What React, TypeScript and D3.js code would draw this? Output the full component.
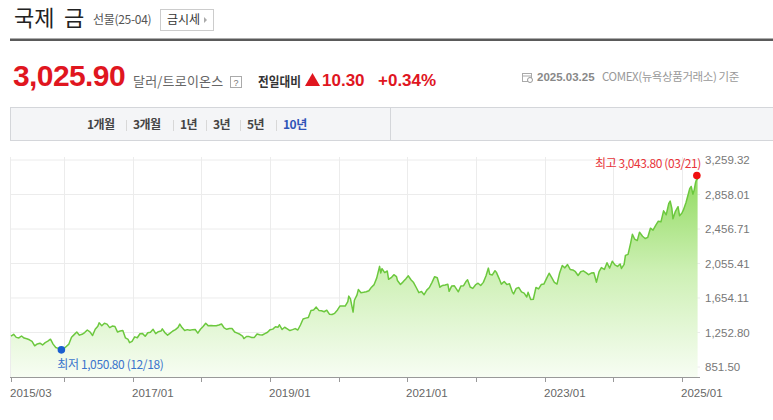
import * as d3 from "d3";
import React from "react";

// weekly-ish closes
const dates = [
  "2015-03-25", "2015-04-08", "2015-04-22", "2015-05-06", "2015-05-20", "2015-06-03", "2015-06-17", "2015-07-01",
  "2015-07-15", "2015-07-29", "2015-08-12", "2015-08-26", "2015-09-09", "2015-09-23", "2015-10-07", "2015-10-21",
  "2015-11-04", "2015-11-18", "2015-12-02", "2015-12-18", "2015-12-30",
  "2016-01-13", "2016-01-27", "2016-02-10", "2016-02-24", "2016-03-09", "2016-03-23", "2016-04-06", "2016-04-20",
  "2016-05-04", "2016-05-18", "2016-06-01", "2016-06-15", "2016-06-29", "2016-07-06", "2016-07-20", "2016-08-03",
  "2016-08-17", "2016-08-31", "2016-09-14", "2016-09-28", "2016-10-12", "2016-10-26", "2016-11-09", "2016-11-23",
  "2016-12-07", "2016-12-15", "2016-12-28",
  "2017-01-11", "2017-01-25", "2017-02-08", "2017-02-22", "2017-03-08", "2017-03-22", "2017-04-05", "2017-04-19",
  "2017-05-03", "2017-05-17", "2017-05-31", "2017-06-07", "2017-06-21", "2017-07-05", "2017-07-19", "2017-08-02",
  "2017-08-16", "2017-08-30", "2017-09-08", "2017-09-20", "2017-10-04", "2017-10-18", "2017-11-01", "2017-11-15",
  "2017-11-29", "2017-12-13", "2017-12-27",
  "2018-01-10", "2018-01-24", "2018-02-07", "2018-02-21", "2018-03-07", "2018-03-21", "2018-04-04", "2018-04-18",
  "2018-05-02", "2018-05-16", "2018-05-30", "2018-06-13", "2018-06-27", "2018-07-11", "2018-07-25", "2018-08-08",
  "2018-08-15", "2018-08-29", "2018-09-12", "2018-09-26", "2018-10-10", "2018-10-24", "2018-11-07", "2018-11-21",
  "2018-12-05", "2018-12-19",
  "2019-01-02", "2019-01-16", "2019-01-30", "2019-02-13", "2019-02-20", "2019-03-06", "2019-03-20", "2019-04-03",
  "2019-04-17", "2019-05-01", "2019-05-15", "2019-05-29", "2019-06-12", "2019-06-26", "2019-07-10", "2019-07-24",
  "2019-08-07", "2019-08-21", "2019-09-04", "2019-09-18", "2019-10-02", "2019-10-16", "2019-10-30", "2019-11-13",
  "2019-11-27", "2019-12-11", "2019-12-26",
  "2020-01-08", "2020-01-22", "2020-02-05", "2020-02-19", "2020-02-24", "2020-03-04", "2020-03-18", "2020-03-25",
  "2020-04-08", "2020-04-15", "2020-04-29", "2020-05-13", "2020-05-27", "2020-06-10", "2020-06-24", "2020-07-08",
  "2020-07-22", "2020-08-06", "2020-08-12", "2020-08-19", "2020-09-02", "2020-09-16", "2020-09-23", "2020-10-07",
  "2020-10-21", "2020-11-04", "2020-11-09", "2020-11-25", "2020-12-09", "2020-12-23",
  "2021-01-06", "2021-01-20", "2021-02-03", "2021-02-17", "2021-03-03", "2021-03-17", "2021-03-31", "2021-04-14",
  "2021-04-28", "2021-05-12", "2021-05-26", "2021-06-09", "2021-06-23", "2021-07-07", "2021-07-21", "2021-08-04",
  "2021-08-11", "2021-08-25", "2021-09-08", "2021-09-29", "2021-10-13", "2021-10-27", "2021-11-10", "2021-11-17",
  "2021-12-01", "2021-12-15", "2021-12-29",
  "2022-01-12", "2022-01-26", "2022-02-09", "2022-02-23", "2022-03-08", "2022-03-15", "2022-03-29", "2022-04-12",
  "2022-04-19", "2022-05-04", "2022-05-16", "2022-05-31", "2022-06-14", "2022-06-28", "2022-07-13", "2022-07-20",
  "2022-08-03", "2022-08-17", "2022-08-31", "2022-09-14", "2022-09-28", "2022-10-05", "2022-10-19", "2022-11-02",
  "2022-11-16", "2022-11-30", "2022-12-14", "2022-12-28",
  "2023-01-11", "2023-01-25", "2023-02-08", "2023-02-22", "2023-03-08", "2023-03-22", "2023-04-05", "2023-04-19",
  "2023-05-03", "2023-05-17", "2023-05-31", "2023-06-14", "2023-06-28", "2023-07-12", "2023-07-26", "2023-08-09",
  "2023-08-23", "2023-09-06", "2023-09-20", "2023-10-04", "2023-10-18", "2023-10-30", "2023-11-15", "2023-11-29",
  "2023-12-13", "2023-12-27",
  "2024-01-10", "2024-01-24", "2024-02-07", "2024-02-14", "2024-02-28", "2024-03-06", "2024-03-20", "2024-04-03",
  "2024-04-12", "2024-04-24", "2024-05-08", "2024-05-20", "2024-06-05", "2024-06-19", "2024-07-03", "2024-07-17",
  "2024-07-31", "2024-08-14", "2024-08-28", "2024-09-11", "2024-09-25", "2024-10-09", "2024-10-23", "2024-10-30",
  "2024-11-08", "2024-11-14", "2024-11-27", "2024-12-11", "2024-12-19", "2024-12-31",
  "2025-01-08", "2025-01-22", "2025-02-05", "2025-02-11", "2025-02-19", "2025-02-28", "2025-03-07", "2025-03-14",
  "2025-03-21", "2025-03-25",
];

const prices = [
  1212, 1232, 1196, 1190, 1212, 1188, 1180, 1168,
  1150, 1098, 1120, 1128, 1108, 1135, 1152, 1175,
  1118, 1078, 1068, 1050.8, 1062,
  1090, 1118, 1198, 1228, 1258, 1222, 1232, 1252,
  1282, 1260, 1218, 1290, 1325, 1365, 1332, 1360,
  1350, 1310, 1328, 1322, 1258, 1270, 1276, 1190,
  1172, 1135, 1150,
  1202, 1192, 1238, 1240, 1210, 1250, 1256, 1290,
  1240, 1262, 1270, 1295, 1250, 1222, 1245, 1270,
  1286, 1312, 1350, 1310, 1276, 1286, 1278, 1286,
  1288, 1246, 1290,
  1322, 1360, 1330, 1334, 1330, 1332, 1340, 1352,
  1306, 1290, 1300, 1300, 1258, 1246, 1232, 1212,
  1182, 1206, 1205, 1195, 1196, 1236, 1226, 1224,
  1240, 1256,
  1286, 1292, 1320, 1315, 1343, 1288, 1314, 1296,
  1276, 1286, 1298, 1282, 1340, 1410, 1420, 1426,
  1510, 1514, 1548, 1510, 1505, 1494, 1512, 1466,
  1462, 1476, 1515,
  1560, 1562, 1560, 1612, 1676, 1644, 1490, 1628,
  1690, 1752, 1716, 1720, 1726, 1738, 1780, 1810,
  1888, 2022, 1945, 1996, 1950, 1968, 1872, 1890,
  1925, 1902, 1858, 1812, 1842, 1876,
  1912, 1866, 1834, 1776, 1716, 1730, 1692, 1746,
  1776, 1836, 1902, 1890, 1780, 1800, 1806, 1815,
  1732, 1795, 1796, 1726, 1795, 1798, 1850, 1866,
  1782, 1766, 1806,
  1826, 1800, 1836, 1910, 2002, 1930, 1922, 1972,
  1955, 1880, 1815, 1846, 1810, 1820, 1726, 1702,
  1766, 1776, 1726, 1710, 1666, 1720, 1636, 1640,
  1776, 1760, 1810, 1816,
  1880, 1942, 1890, 1836, 1816, 1946, 2032, 2005,
  2044, 1986, 1980, 1960, 1916, 1960, 1970, 1950,
  1926, 1944, 1948, 1838, 1962, 2008, 1986, 2064,
  2002, 2082,
  2040, 2022, 2050, 1998, 2046, 2150, 2162, 2296,
  2395, 2340, 2322, 2420, 2372, 2346, 2360, 2466,
  2444, 2498, 2548, 2540, 2668, 2622, 2756, 2782,
  2696, 2575, 2662, 2716, 2612, 2640,
  2676, 2762, 2876, 2926, 2952, 2862, 2912, 2996,
  3043.8, 3025.9,
];

const yTicks = [851.5, 1252.8, 1654.11, 2055.41, 2456.71, 2858.01, 3259.32];
const xTickDates = [
  "2015-03-25", "2016-01-01", "2017-01-01", "2018-01-01", "2019-01-01", "2020-01-01",
  "2021-01-01", "2022-01-01", "2023-01-01", "2024-01-01", "2025-01-01",
];
const xTickLabels = ["2015/03", "", "2017/01", "", "2019/01", "", "2021/01", "", "2023/01", "", "2025/01"];
const tabs = ["1개월", "3개월", "1년", "3년", "5년", "10년"];
const tabX = [87, 133, 180, 213, 247, 283];

const KR = "'Noto Sans CJK KR', 'Noto Sans', sans-serif";
const NUM = "'Liberation Sans', Arial, sans-serif";

const fmt = (v: number) =>
  v.toLocaleString("en-US", { minimumFractionDigits: 2, maximumFractionDigits: 2 });

export default function App() {
  const W = 773;
  const H = 420;
  const plot = { left: 10, right: 700, top: 160, bottom: 377 };

  const parse = d3.timeParse("%Y-%m-%d");
  const data = dates.map((d, i) => ({ date: parse(d) as Date, value: prices[i] }));

  const x = d3
    .scaleTime()
    .domain([parse("2015-03-25") as Date, parse("2025-03-25") as Date])
    .range([11, 697.6]);
  const y = d3.scaleLinear().domain([851.5, 3259.32]).range([367, 160]);

  const line = d3
    .line<{ date: Date; value: number }>()
    .x((d) => x(d.date))
    .y((d) => y(d.value));
  const area = d3
    .area<{ date: Date; value: number }>()
    .x((d) => x(d.date))
    .y0(plot.bottom)
    .y1((d) => y(d.value));

  const lo = data.reduce((a, b) => (b.value < a.value ? b : a));
  const hi = data.reduce((a, b) => (b.value > a.value ? b : a));

  return (
    <svg
      width={W}
      height={H}
      viewBox={`0 0 ${W} ${H}`}
      style={{ position: "absolute", left: 0, top: 0, background: "#fff" }}
    >
      <defs>
        <linearGradient id="goldFill" gradientUnits="userSpaceOnUse" x1="0" y1="165" x2="0" y2="377">
          <stop offset="0" stopColor="#8ad856" />
          <stop offset="0.5" stopColor="#cdf0b4" />
          <stop offset="1" stopColor="#f7fdf3" />
        </linearGradient>
      </defs>

      {/* header */}
      <text x={14} y={26} fontFamily={KR} fontSize={22} fill="#222">
        국제
      </text>
      <text x={64} y={26} fontFamily={KR} fontSize={22} fill="#222">
        금
      </text>
      <text x={93} y={24} fontFamily={KR} fontSize={12} fill="#555" letterSpacing={-0.3}>
        선물(25-04)
      </text>
      <rect x={160.5} y={9.5} width={53} height={21} fill="#fff" stroke="#ccc" />
      <text x={167} y={24} fontFamily={KR} fontSize={12} fill="#333">
        금시세
      </text>
      <path d="M204,17 L207,20 L204,23 Z" fill="#aaa" />
      <rect x={10} y={38.5} width={763} height={2.5} fill="#5a5a5a" />

      {/* price row */}
      <text x={13} y={86} fontFamily={NUM} fontWeight="bold" fontSize={30} fill="#e0161f" letterSpacing={-0.6}>
        3,025.90
      </text>
      <text x={133} y={86} fontFamily={KR} fontSize={13} fill="#666" letterSpacing={0.2}>
        달러/트로이온스
      </text>
      <rect x={230.5} y={76.5} width={11} height={11} fill="#fff" stroke="#aaa" />
      <text x={236} y={85.5} fontFamily={NUM} fontSize={9} fill="#777" textAnchor="middle">
        ?
      </text>
      <text
        x={258}
        y={86}
        fontFamily={KR}
        fontWeight="bold"
        fontSize={13}
        fill="#333"
        textLength={43}
        lengthAdjust="spacingAndGlyphs"
      >
        전일대비
      </text>
      <path d="M305,86 L312.5,73 L320,86 Z" fill="#e0161f" />
      <text x={322} y={86} fontFamily={NUM} fontWeight="bold" fontSize={17} fill="#e0161f">
        10.30
      </text>
      <text x={378} y={86} fontFamily={NUM} fontWeight="bold" fontSize={17} fill="#e0161f">
        +0.34%
      </text>

      {/* date stamp */}
      <rect x={522.5} y={73.5} width={9} height={8} fill="#fff" stroke="#aaa" />
      <line x1={522.5} y1={76} x2={531.5} y2={76} stroke="#aaa" />
      <circle cx={530} cy={80} r={2.5} fill="#fff" stroke="#999" />
      <text x={537} y={81} fontFamily={NUM} fontSize={11.5} fill="#888" fontWeight="bold">
        2025.03.25
      </text>
      <text x={602} y={81} fontFamily={KR} fontSize={11.5} fill="#999" letterSpacing={-0.4}>
        COMEX(뉴욕상품거래소) 기준
      </text>

      {/* period tabs */}
      <rect x={10.5} y={107.5} width={770} height={33} fill="#f4f5f7" stroke="#d4d6da" />
      <line x1={390.5} y1={108} x2={390.5} y2={140} stroke="#d4d6da" />
      {tabs.map((t, i) => (
        <g key={t}>
          <text
            x={tabX[i]}
            y={129}
            fontFamily={KR}
            fontSize={12}
            fontWeight="bold"
            fill={i === tabs.length - 1 ? "#2f54b8" : "#444"}
            letterSpacing={-0.5}
          >
            {t}
          </text>
          {i > 0 && <line x1={tabX[i] - 6.5} y1={120} x2={tabX[i] - 6.5} y2={131} stroke="#d8d8d8" />}
        </g>
      ))}

      {/* grid */}
      {yTicks.map((v) => (
        <line key={v} x1={plot.left} x2={plot.right} y1={y(v)} y2={y(v)} stroke="#ececec" />
      ))}
      <line x1={plot.left + 0.5} x2={plot.left + 0.5} y1={plot.top - 3} y2={plot.bottom} stroke="#ececec" />
      {xTickDates.slice(1).map((d) => {
        const px = Math.round(x(parse(d) as Date)) + 0.5;
        return <line key={d} x1={px} x2={px} y1={plot.top - 3} y2={plot.bottom} stroke="#ececec" />;
      })}

      {/* area + line */}
      <path d={area(data) ?? ""} fill="url(#goldFill)" />
      <path d={line(data) ?? ""} fill="none" stroke="#6cc83e" strokeWidth={1.5} strokeLinejoin="round" />

      {/* x axis */}
      <line x1={plot.left} x2={plot.right} y1={plot.bottom + 0.5} y2={plot.bottom + 0.5} stroke="#999" />
      {xTickDates.map((d, i) => {
        const px = Math.round(x(parse(d) as Date)) + 0.5;
        return (
          <g key={d}>
            <line x1={px} x2={px} y1={plot.bottom} y2={plot.bottom + 5} stroke="#999" />
            {xTickLabels[i] && (
              <text x={px - 1.5} y={397} fontFamily={NUM} fontSize={11.5} fill="#666">
                {xTickLabels[i]}
              </text>
            )}
          </g>
        );
      })}

      {/* y labels */}
      {yTicks.map((v) => (
        <text key={v} x={705} y={y(v) + 4} fontFamily={NUM} fontSize={11.5} fill="#777">
          {fmt(v)}
        </text>
      ))}

      {/* high / low markers */}
      <circle cx={x(hi.date)} cy={y(hi.value) - 3} r={3.8} fill="#f01010" />
      <text
        x={701}
        y={y(hi.value) - 11}
        fontFamily={KR}
        fontSize={12}
        fill="#e8343a"
        textAnchor="end"
        letterSpacing={-0.4}
      >
        {`최고 ${fmt(hi.value)} (${d3.timeFormat("%m/%d")(hi.date)})`}
      </text>
      <circle cx={x(lo.date)} cy={y(lo.value)} r={3.8} fill="#1a5fd0" />
      <text x={x(lo.date) - 4} y={y(lo.value) + 19} fontFamily={KR} fontSize={12} fill="#3a74cc" letterSpacing={-0.4}>
        {`최저 ${fmt(lo.value)} (${d3.timeFormat("%m/%d")(lo.date)})`}
      </text>
    </svg>
  );
}
